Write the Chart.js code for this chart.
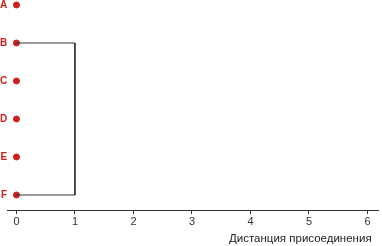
<!DOCTYPE html>
<html>
<head>
<meta charset="utf-8">
<script src="https://cdn.jsdelivr.net/npm/chart.js@4/dist/chart.umd.min.js"></script>
<style>
  html, body { margin: 0; padding: 0; background: #fff; }
  #wrap { width: 382px; height: 246px; }
</style>
</head>
<body>
<div id="wrap"><canvas id="myChart"></canvas></div>
<script>
// leaves of the dendrogram (top to bottom)
var leaves = ['A', 'B', 'C', 'D', 'E', 'F'];
var leafDist = [0, 0, 0, 0, 0, 0];
// one merge: B + F at distance 1
var mergeLeft = 'B';
var mergeRight = 'F';
var mergeDist = 1;
var xTicks = [0, 1, 2, 3, 4, 5, 6];
var xTitle = 'Дистанция присоединения';

var red = '#cc2020';
var iL = leaves.indexOf(mergeLeft);
var iR = leaves.indexOf(mergeRight);

// draw the x axis line along the bottom of the plot
var axisLine = {
    id: 'axisLine',
    afterDraw: function(chart) {
        var c = chart.ctx, s = chart.scales.x;
        var y = Math.round(s.top) + 0.5;
        c.save();
        c.strokeStyle = '#333';
        c.lineWidth = 1;
        c.beginPath();
        c.moveTo(s.left, y);
        c.lineTo(s.right, y);
        c.stroke();
        c.restore();
    }
};

var ctx = document.getElementById('myChart').getContext('2d');
var myChart = new Chart(ctx, {
    type: 'scatter',
    data: {
        datasets: [{
            type: 'line',
            data: [
                { x: leafDist[iL], y: iL },
                { x: mergeDist, y: iL },
                { x: mergeDist, y: iR },
                { x: leafDist[iR], y: iR }
            ],
            borderColor: '#333',
            borderWidth: 1,
            pointRadius: 0,
            fill: false,
            tension: 0,
            clip: false
        }, {
            data: leaves.map(function(l, i) { return { x: leafDist[i], y: i }; }),
            backgroundColor: red,
            borderColor: red,
            pointRadius: 3,
            pointHoverRadius: 3,
            clip: false
        }]
    },
    plugins: [axisLine],
    options: {
        responsive: true,
        maintainAspectRatio: false,
        animation: false,
        layout: { padding: { top: 0, right: 0, bottom: 0, left: 0 } },
        plugins: { legend: { display: false }, tooltip: { enabled: false } },
        scales: {
            x: {
                type: 'linear',
                min: -0.158,
                max: 6.18,
                afterBuildTicks: function(s) { s.ticks = xTicks.map(function(v) { return { value: v }; }); },
                border: { display: true, color: '#333', width: 1 },
                grid: { display: true, drawOnChartArea: false, drawTicks: true, tickLength: 4, color: '#333' },
                ticks: { color: '#333', font: { family: 'Liberation Sans', size: 11 }, padding: 1 },
                title: {
                    display: true, text: xTitle + '\u00a0\u00a0', align: 'end', color: '#222',
                    font: { family: 'Liberation Sans', size: 11.5 }, padding: { top: 3, bottom: 0 }
                }
            },
            y: {
                type: 'linear',
                reverse: true,
                min: -0.026,
                max: 5.395,
                afterBuildTicks: function(s) { s.ticks = leaves.map(function(l, i) { return { value: i }; }); },
                border: { display: false },
                grid: { display: false, drawTicks: false },
                ticks: {
                    color: red, padding: 0,
                    font: { family: 'Liberation Sans', size: 10, weight: 'bold', lineHeight: 0.3 },
                    callback: function(v) { return leaves[v]; }
                }
            }
        }
    }
});
</script>
</body>
</html>
